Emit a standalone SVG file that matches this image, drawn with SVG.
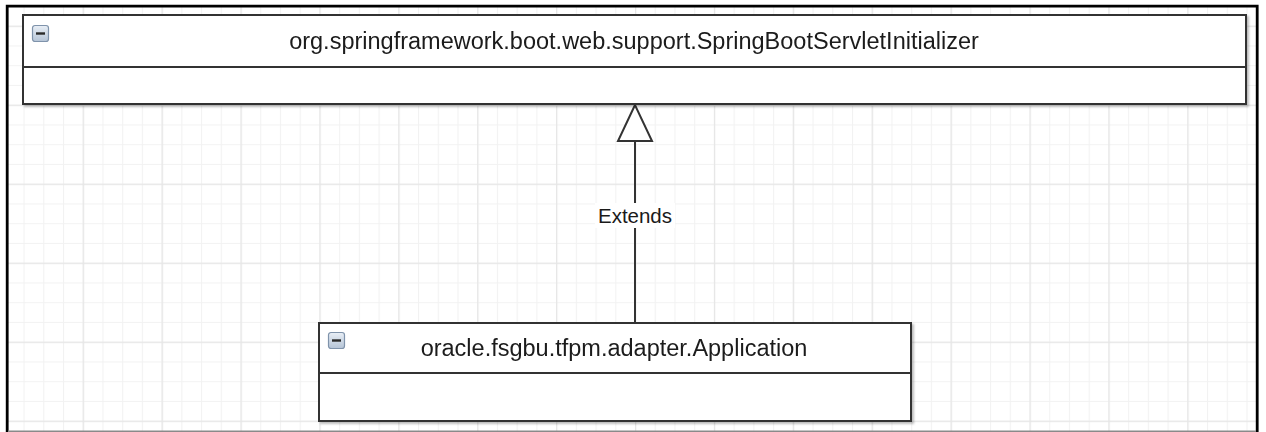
<svg xmlns="http://www.w3.org/2000/svg" width="1266" height="432" viewBox="0 0 1266 432">
  <defs>
    <pattern id="minor" patternUnits="userSpaceOnUse" x="3.8" y="5.95" width="19.725" height="19.75">
      <path d="M0.5 0V19.75M0 0.5H19.725" fill="none" stroke="#f2f2f2" stroke-width="1.2"/>
    </pattern>
    <pattern id="major" patternUnits="userSpaceOnUse" x="3.8" y="25.7" width="78.9" height="79">
      <path d="M0.5 0V79M0 0.5H78.9" fill="none" stroke="#e6e6e6" stroke-width="1.5"/>
    </pattern>
    <linearGradient id="iconFill" x1="0" y1="0" x2="0" y2="1">
      <stop offset="0" stop-color="#e9eff6"/>
      <stop offset="1" stop-color="#b5c4d6"/>
    </linearGradient>
    <g id="collapse">
      <rect x="0.5" y="0.5" width="16" height="16" rx="2.5" fill="url(#iconFill)" stroke="#7f93ab" stroke-width="1.2"/>
      <rect x="4" y="7.3" width="9" height="2.4" fill="#2a2a2a"/>
    </g>
    <filter id="shadow" x="-5%" y="-20%" width="110%" height="140%">
      <feDropShadow dx="2" dy="2" stdDeviation="1.2" flood-color="#000" flood-opacity="0.25"/>
    </filter>
  </defs>
  <style>
    .box { fill: #ffffff; stroke: #333333; stroke-width: 2; }
    .div { stroke: #333333; stroke-width: 2; }
    .name { font-family: "Liberation Sans", Arial, sans-serif; font-size: 23.5px; fill: #1a1a1a; text-anchor: middle; }
    .lbl { font-family: "Liberation Sans", Arial, sans-serif; font-size: 20.5px; fill: #1a1a1a; text-anchor: middle; }
    .conn { stroke: #333333; stroke-width: 2; fill: none; }
  </style>

  <rect width="1266" height="432" fill="#ffffff"/>
  <g id="grid">
    <rect x="7" y="6" width="1250" height="426" fill="url(#minor)"/>
    <rect x="7" y="6" width="1250" height="426" fill="url(#major)"/>
  </g>

  <g id="frame">
    <path d="M7.2 432V6.2H1257.2V432" fill="none" stroke="#000000" stroke-width="2.8"/>
    <line x1="8" y1="431.2" x2="1256" y2="431.2" stroke="#8a8a8a" stroke-width="1.6"/>
  </g>

  <g id="connectors">
    <line class="conn" x1="635" y1="141" x2="635" y2="323"/>
    <polygon points="635,105 618,141 652,141" fill="#ffffff" stroke="#333333" stroke-width="2"/>
    <rect x="595" y="203" width="80" height="25" fill="#ffffff"/>
    <text class="lbl" x="635" y="223">Extends</text>
  </g>

  <g id="node-springbootservletinitializer" filter="url(#shadow)">
    <rect class="box" x="23" y="15" width="1223" height="89"/>
    <line class="div" x1="23" y1="67" x2="1246" y2="67"/>
    <use href="#collapse" x="32" y="25"/>
    <text class="name" x="634" y="48.5">org.springframework.boot.web.support.SpringBootServletInitializer</text>
  </g>

  <g id="node-application" filter="url(#shadow)">
    <rect class="box" x="319" y="323" width="592" height="98"/>
    <line class="div" x1="319" y1="373" x2="911" y2="373"/>
    <use href="#collapse" x="328" y="332"/>
    <text class="name" x="614" y="355.5">oracle.fsgbu.tfpm.adapter.Application</text>
  </g>
</svg>
